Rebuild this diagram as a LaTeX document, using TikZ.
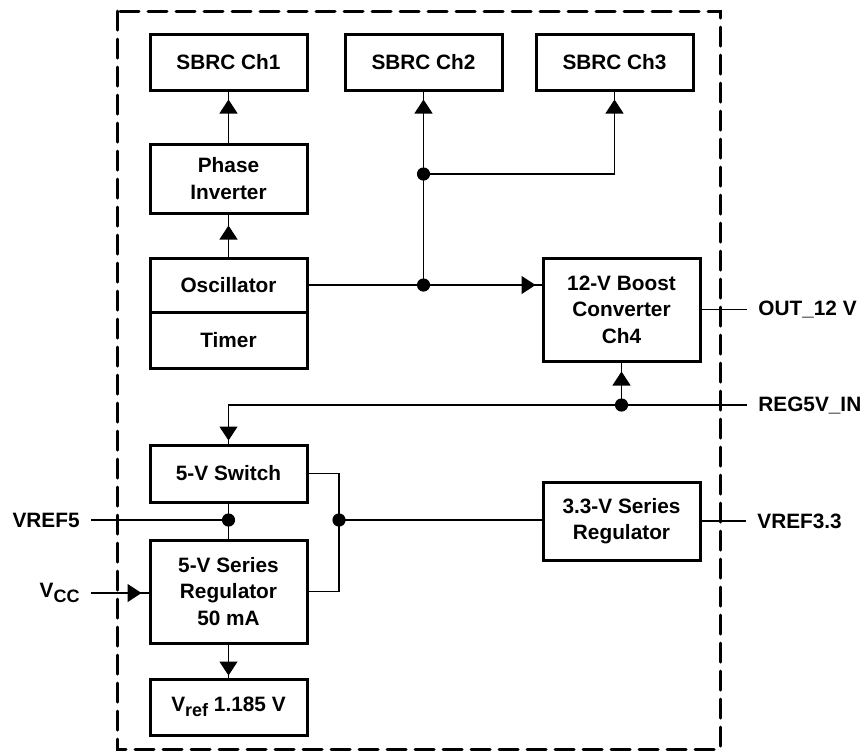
\documentclass[tikz,border=0pt]{standalone}
\usepackage{fontspec}
\setmainfont{Liberation Sans}
\usetikzlibrary{arrows.meta}
\tikzset{
  blk/.style={draw, line width=1.5pt, align=center, minimum width=78.5pt, inner sep=0pt,
    font=\fontsize{10.4}{13.2}\selectfont\bfseries},
  sig/.style={inner sep=5.5pt, font=\fontsize{10.4}{13.2}\selectfont\bfseries},
  wire/.style={line width=0.6pt},
  feed/.style={wire, postaction={draw, -{Triangle[length=7pt,width=9pt]}, shorten >=#1}},
  feed/.default=3pt
}
\begin{document}
\begin{tikzpicture}[x=0.5pt,y=-0.5pt]
   \newcommand{\joinDot}[1]{
        \fill (#1) circle (3.3pt);
    }
  \useasboundingbox (0,0) rectangle (865,752);
  \draw[line width=1.5pt, line cap=round, dash pattern=on 9.5pt off 4.5pt] (117,11) rectangle (720,749);

  \node[blk, minimum height=28pt] (ch1) at (228.5,62) {SBRC Ch1};
  \node[blk, minimum height=28pt] (ch2) at (423.5,62) {SBRC Ch2};
  \node[blk, minimum height=28pt] (ch3) at (614.5,62) {SBRC Ch3};
  \node[blk, minimum height=34.5pt] (inv) at (228.5,178.5) {Phase\\Inverter};
  \node[blk, minimum height=27pt] (osc) at (228.5,285) {Oscillator};
  \node[blk, minimum height=28pt] (tmr) at (228.5,340) {Timer};
  \node[blk, minimum height=51.5pt] (boost) at (621.5,309.5) {12-V Boost\\Converter\\Ch4};
  \node[blk, minimum height=28.5pt] (sw) at (228.5,473.5) {5-V Switch};
  \node[blk, minimum height=51.5pt] (reg5) at (228.5,591.5) {5-V Series\\Regulator\\50 mA};
  \node[blk, minimum height=28pt] (vref) at (228.5,707) {V\raisebox{-0.45ex}{\small ref} 1.185 V};
  \node[blk, minimum height=39pt] (reg33) at (621.5,521) {3.3-V Series\\Regulator};

  \node[sig, anchor=west] (out12) at (747,309.5) {OUT\_12 V};
  \node[sig, anchor=west] (reg5in) at (747,405) {REG5V\_IN};
  \node[sig, anchor=west] (vref33) at (746,521) {VREF3.3};
  \node[sig, anchor=east] (vref5) at (91,520) {VREF5};
  \node[sig, anchor=east] (vcc) at (91,593) {V\raisebox{-0.45ex}{\small CC}};

  \coordinate (j1) at (osc.east -| ch2.south);
  \coordinate (j2) at (423.5,174);
  \coordinate (j3) at (reg5in.west -| boost.south);
  \coordinate (j4) at (vref5.east -| sw.south);
  \coordinate (j5) at (339,520);

  \draw[feed=4pt] (inv.north) -- (ch1.south);
  \draw[feed=5.5pt] (osc.north) -- (inv.south);
  \draw[feed] (osc.east) -- (osc.east -| boost.west);
  \draw[feed=4pt] (j1) -- (ch2.south);
  \draw[feed=4pt] (j2) -| (ch3.south);
  \draw[feed=1.5pt] (reg5in.west) -| (sw.north);
  \draw[feed=4.5pt] (j3) -- (boost.south);
  \draw[wire] (boost.east) -- (out12.west);
  \draw[wire] (sw.south) -- (reg5.north);
  \draw[wire] (vref5.east) -- (j4);
  \draw[wire] (sw.east) -| (j5) |- (reg5.east);
  \draw[wire] (j5) -- (j5 -| reg33.west);
  \draw[wire] (reg33.east) -- (vref33.west);
  \draw[feed=3.5pt] (vcc.east) -- (vcc.east -| reg5.west);
  \draw[feed=1pt] (reg5.south) -- (vref.north);
  \joinDot{j1} \joinDot{j2} \joinDot{j3} \joinDot{j4} \joinDot{j5}
\end{tikzpicture}
\end{document}
